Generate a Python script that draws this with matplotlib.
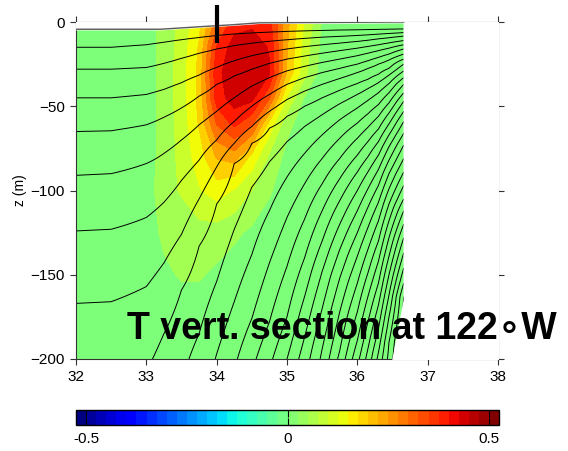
import numpy as np
import matplotlib
matplotlib.use("Agg")
import matplotlib.pyplot as plt
from matplotlib.colors import Normalize
from matplotlib.cm import ScalarMappable

# temperature anomaly on a coarse lon/depth grid
t_lon = [32, 33, 33.25, 33.5, 33.75, 34, 34.25, 34.5, 34.75, 35, 35.25, 35.5, 36, 36.66]
t_depth = [0, -15, -30, -45, -60, -80, -100, -125, -150, -175, -200]
t_anom = [
    [0, 0, 0.04, 0.09, 0.16, 0.30, 0.40, 0.41, 0.39, 0.24, 0.12, 0.02, 0, 0],
    [0, 0, 0.045, 0.095, 0.18, 0.38, 0.45, 0.46, 0.42, 0.23, 0.10, 0.01, 0, 0],
    [0, 0, 0.045, 0.10, 0.19, 0.41, 0.46, 0.47, 0.43, 0.22, 0.09, 0, 0, 0],
    [0, 0, 0.045, 0.10, 0.19, 0.40, 0.45, 0.44, 0.33, 0.12, 0.02, 0, 0, 0],
    [0, 0, 0.045, 0.095, 0.18, 0.33, 0.39, 0.34, 0.16, 0.04, 0, 0, 0, 0],
    [0, 0, 0.045, 0.09, 0.15, 0.23, 0.25, 0.16, 0.065, 0.01, 0, 0, 0, 0],
    [0, 0, 0.055, 0.08, 0.12, 0.15, 0.12, 0.075, 0.03, 0, 0, 0, 0, 0],
    [0, 0, 0.035, 0.045, 0.055, 0.05, 0.035, 0.015, 0, 0, 0, 0, 0, 0],
    [0, 0, 0.015, 0.03, 0.03, 0.015, 0, 0, 0, 0, 0, 0, 0, 0],
    [0, 0, 0, 0, 0, 0, 0, 0, 0, 0, 0, 0, 0, 0],
    [0, 0, 0, 0, 0, 0, 0, 0, 0, 0, 0, 0, 0, 0],
]

# depth of each streamline (1, 2, 3, ...) at these longitudes
psi_lon = [32, 32.5, 33, 33.25, 33.5, 33.75, 34, 34.25, 34.5, 34.75,
           35, 35.25, 35.5, 35.75, 36, 36.15, 36.3, 36.45, 36.66]
psi_floor = [7.6, 7.65, 7.85, 8.28, 8.75, 9.34, 10.06, 10.84, 11.75, 12.78,
             14.0, 15.5, 17.2, 19.25, 21.7, 23.35, 25.25, 27.3, 30.0]
nan = np.nan
line_z = [
    [-15, -15, -13.5, -12, -10.5, -9.2, -8, -7.1, -6.5, -6, -5.6, -5.3, -5.0, -4.8, -4.7, -4.6, -4.5, -4.4, -4.2],
    [-28, -28, -27, -24.5, -21.5, -18.5, -16, -14, -12.5, -11.4, -10.5, -9.7, -9.0, -8.5, -8.0, -7.6, -7.2, -6.8, -6.3],
    [-45, -45, -43, -40, -36, -31.5, -27, -23, -20, -17.8, -16, -14.6, -13.5, -12.5, -11.5, -10.8, -10, -9.3, -8.3],
    [-65, -64.5, -61, -56.5, -51, -44, -37, -32, -28, -24.5, -22, -20.2, -18.5, -17, -15.5, -14.5, -13.5, -12.4, -11],
    [-91, -90, -84, -78, -70, -61, -53, -45, -38, -33, -29, -26.3, -24, -22, -20, -18.5, -17, -15.5, -13.5],
    [-124, -123, -116, -107, -94, -82, -70, -59, -50, -43, -37, -33, -30, -27.5, -25, -23, -21, -19, -16],
    [-167, -166, -157, -143, -126, -105, -86, -72, -62, -53, -46, -41, -37, -33.5, -30, -27.5, -25, -22.5, -19],
    [nan, nan, nan, -185, -159, -133, -108, -84, -72, -63, -56, -50, -45, -40.5, -36.5, -34, -31, -27.5, -22],
    [nan] * 5 + [-185, -154, -123, -98, -83, -71, -62, -55, -48.5, -43, -39.5, -36, -31.5, -25],
    [nan] * 6 + [-197, -166, -138, -112, -92, -78, -67, -58, -51, -46.5, -42, -36.5, -29],
    [nan] * 8 + [-176, -143, -116, -96, -81, -69, -60, -54.5, -49, -42, -33],
    [nan] * 9 + [-178, -145, -117, -96, -81, -69, -62.5, -56, -48, -37],
    [nan] * 10 + [-175, -140, -112, -93, -79, -71, -63.5, -54, -42],
    [nan] * 11 + [-163, -130, -106, -89, -80, -71, -60.5, -47],
    [nan] * 11 + [-187, -148, -120, -100, -89, -79, -67, -53],
    [nan] * 12 + [-170, -135, -112, -99, -87.5, -74, -59],
    [nan] * 12 + [-194, -152, -125, -110, -97, -82, -66],
    [nan] * 13 + [-172, -139, -122, -107, -90, -73],
    [nan] * 13 + [-195, -155, -135, -118, -99, -81],
    [nan] * 14 + [-172, -149, -130, -108, -89],
    [nan] * 14 + [-189, -163, -142, -118, -97],
    [nan] * 15 + [-178, -155, -128, -105],
    [nan] * 15 + [-194, -168, -139, -112],
    [nan] * 16 + [-182, -150, -120],
    [nan] * 16 + [-196, -162, -128],
    [nan] * 17 + [-175, -137],
    [nan] * 17 + [-190, -146],
    [nan] * 18 + [-155],
    [nan] * 18 + [-163],
]

# sea surface and coast outline
surf_x = [32, 33.2, 33.5, 33.8, 34.2, 34.6, 36.66]
surf_z = [-4.3, -4.3, -3.5, -2.7, -1.7, -0.5, 0]
coast_z = [0, -165, -200]
coast_x = [36.66, 36.66, 36.5]

plt.rcParams["font.family"] = ["Liberation Sans Narrow", "Liberation Sans", "DejaVu Sans"]

# build streamfunction column by column
zz = np.linspace(0, -200, 201)
psi = np.zeros((len(zz), len(psi_lon)))
for j in range(len(psi_lon)):
    zs, vs = [0.0], [0.0]
    for k, row in enumerate(line_z, start=1):
        if not np.isnan(row[j]):
            zs.append(row[j])
            vs.append(k)
    zs.append(-200.0)
    vs.append(psi_floor[j])
    psi[:, j] = np.interp(-zz, -np.array(zs), vs)

fig = plt.figure(figsize=(5.68, 4.51), dpi=100)
ax = fig.add_axes([76 / 568, 1 - 359 / 451, 422 / 568, 337 / 451])

levels = np.arange(-0.525, 0.55, 0.05)
ax.contourf(t_lon, t_depth, t_anom, levels=levels, cmap="jet")
ax.contour(psi_lon, zz, psi, levels=np.arange(1, 30), colors="k", linewidths=0.7)

# blank out land and the air above the surface
ax.fill_betweenx(coast_z, coast_x, 38, color="white", zorder=3)
ax.fill_between(surf_x, surf_z, 0, color="white", zorder=3)
ax.plot(surf_x, surf_z, color="0.35", lw=1, zorder=4)

# station marker
ax.plot([34, 34], [10, -12.5], color="k", lw=3, solid_capstyle="butt",
        clip_on=False, zorder=5)

ax.set_xlim(32, 38)
ax.set_ylim(-200, 0)
ax.set_xticks(range(32, 39))
ax.set_yticks([0, -50, -100, -150, -200])
ax.tick_params(direction="out", length=4, top=True, right=True,
               labelsize=11, pad=4, colors="#333333", labelcolor="black")
for s in ax.spines.values():
    s.set_color("#333333")
ax.set_ylabel("z (m)", fontsize=10)
ax.yaxis.set_label_coords(-0.115, 0.5)

fig.text(127 / 568, 1 - 339 / 451, "T vert. section at 122\u2218W",
         fontsize=27, fontweight="bold", va="baseline", ha="left",
         family=["Liberation Sans", "DejaVu Sans"])

# colour bar
cax = fig.add_axes([76 / 568, 1 - 425 / 451, 423 / 568, 15 / 451])
sm = ScalarMappable(norm=Normalize(-0.525, 0.525), cmap=plt.get_cmap("jet", 42))
cb = fig.colorbar(sm, cax=cax, orientation="horizontal", ticks=[-0.5, 0, 0.5])
cb.ax.set_xticklabels(["-0.5", "0", "0.5"])
cb.ax.tick_params(direction="in", length=5, top=True, bottom=True,
                  labelsize=11, pad=5)
cb.outline.set_linewidth(1)

fig.savefig("out.png", dpi=100)
